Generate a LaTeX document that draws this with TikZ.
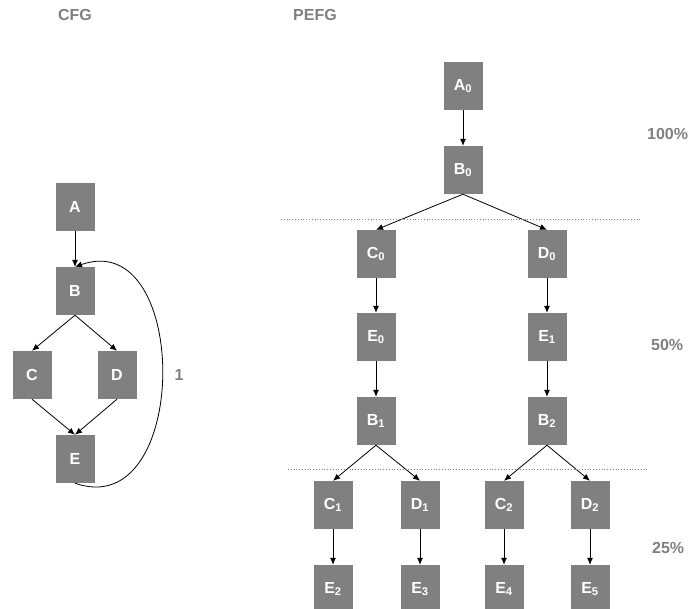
\documentclass[tikz,border=0pt]{standalone}
\usepackage{fontspec}
\setmainfont{Liberation Sans}
\usepackage{tikz}
\usetikzlibrary{arrows.meta,positioning}
\definecolor{blockgray}{RGB}{128,128,128}

\tikzset{
  block/.style={draw=none, fill=blockgray, text=white, font=\fontsize{16}{18}\selectfont\bfseries,
    minimum width=39pt, minimum height=48pt, inner sep=0pt},
  tag/.style={text=blockgray, font=\fontsize{16}{18}\selectfont\bfseries, inner sep=0pt},
  edge/.style={-{Latex[length=7pt,width=6pt]}, line width=0.8pt},
  level/.style={blockgray, line width=0.8pt, dotted}
}

\begin{document}
\begin{tikzpicture}[x=1pt, y=-1pt]
  \useasboundingbox (0,0) rectangle (691,609);

  % CFG
  \node[tag] (cfg) at (75,15) {CFG};
  \node[block] (A) at (75,207) {A};
  \node[block] (B) at (75,291) {B};
  \node[block] (C) at (32,375) {C};
  \node[block] (D) at (117,375) {D};
  \node[block] (E) at (75,459) {E};
  \node[tag] (one) at (179,375) {1};

  \draw[edge] (A) -- (B);
  \draw[edge] (B.south) -- (C.north);
  \draw[edge] (B.south) -- (D.north);
  \draw[edge] (C.south) -- (E.north);
  \draw[edge] (D.south) -- (E.north);
  \draw[edge] (E.south) .. controls (191,524) and (191,226) .. (B.north);

  % PEFG
  \node[tag] (pefg) at (315,15) {PEFG};
  \node[block] (A0) at (463,86) {A\textsubscript{0}};
  \node[block] (B0) at (463,170) {B\textsubscript{0}};
  \node[block] (C0) at (376,254) {C\textsubscript{0}};
  \node[block] (D0) at (547,254) {D\textsubscript{0}};
  \node[block] (E0) at (376,337) {E\textsubscript{0}};
  \node[block] (E1) at (547,337) {E\textsubscript{1}};
  \node[block] (B1) at (376,421) {B\textsubscript{1}};
  \node[block] (B2) at (547,421) {B\textsubscript{2}};
  \node[block] (C1) at (333,505) {C\textsubscript{1}};
  \node[block] (D1) at (420,505) {D\textsubscript{1}};
  \node[block] (C2) at (504,505) {C\textsubscript{2}};
  \node[block] (D2) at (590,505) {D\textsubscript{2}};
  \node[block] (E2) at (333,589) {E\textsubscript{2}};
  \node[block] (E3) at (420,589) {E\textsubscript{3}};
  \node[block] (E4) at (504,589) {E\textsubscript{4}};
  \node[block] (E5) at (590,589) {E\textsubscript{5}};

  \draw[edge] (A0) -- (B0);
  \draw[edge] (B0.south) -- (C0.north);
  \draw[edge] (B0.south) -- (D0.north);
  \draw[edge] (C0) -- (E0);
  \draw[edge] (D0) -- (E1);
  \draw[edge] (E0) -- (B1);
  \draw[edge] (E1) -- (B2);
  \draw[edge] (B1.south) -- (C1.north);
  \draw[edge] (B1.south) -- (D1.north);
  \draw[edge] (B2.south) -- (C2.north);
  \draw[edge] (B2.south) -- (D2.north);
  \draw[edge] (C1) -- (E2);
  \draw[edge] (D1) -- (E3);
  \draw[edge] (C2) -- (E4);
  \draw[edge] (D2) -- (E5);

  % levels
  \draw[level] (281,219) -- (640,219);
  \draw[level] (288,469) -- (647,469);
  \node[tag, anchor=west] (p100) at (647,134) {100\%};
  \node[tag, anchor=west] (p50) at (651,345) {50\%};
  \node[tag, anchor=west] (p25) at (652,548) {25\%};
\end{tikzpicture}
\end{document}
